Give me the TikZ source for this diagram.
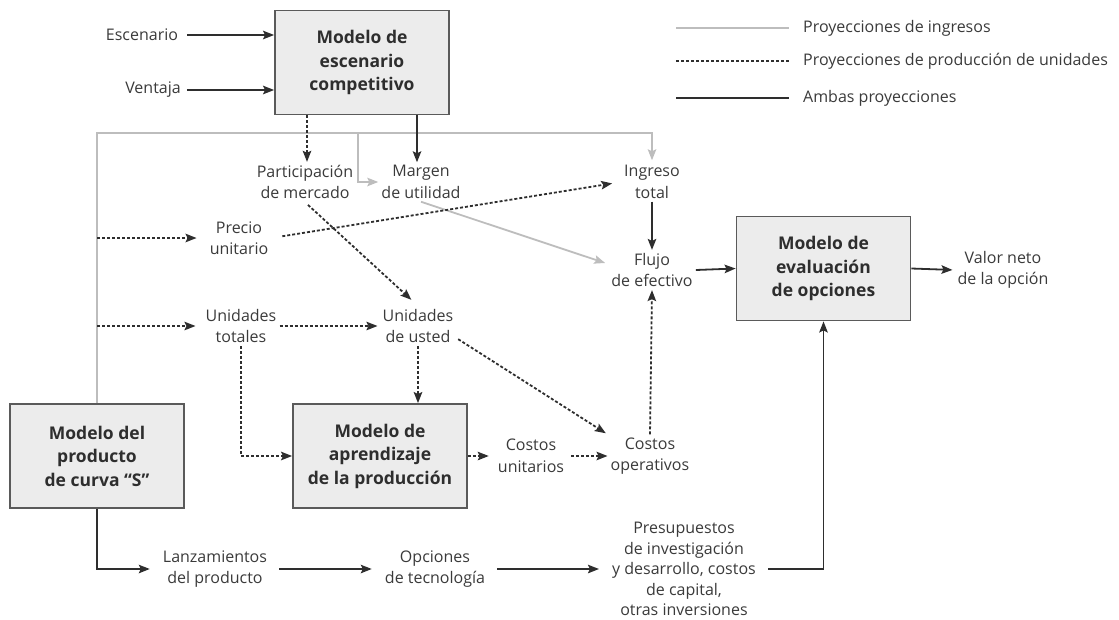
\documentclass[tikz,border=0pt]{standalone}
\usepackage{fontspec}
\setmainfont{Open Sans}
\usetikzlibrary{arrows.meta,calc}
\definecolor{ink}{HTML}{2E2E2E}
\definecolor{txt}{HTML}{3A3A3A}
\definecolor{lgray}{HTML}{BDBDBD}
\definecolor{boxfill}{HTML}{ECECEC}
\definecolor{boxline}{HTML}{5A5A5A}
\begin{document}
\begin{tikzpicture}[x=1pt,y=-1pt,
  >={Stealth[length=11pt,width=8.5pt,inset=2pt]},
  modelbox/.style={draw=boxline,line width=1.8pt,fill=boxfill,minimum width=174pt,minimum height=104pt,
     align=center,text=ink,font=\fontsize{17.5}{23.5}\selectfont\bfseries,inner sep=2pt},
  lab/.style={align=center,text=txt,font=\fontsize{16}{21.5}\selectfont,inner sep=3pt},
  leg/.style={anchor=west,text=txt,font=\fontsize{16}{21}\selectfont,inner sep=0pt},
  solidl/.style={draw=ink,line width=1.8pt},
  dotl/.style={draw=ink,line width=1.8pt,dash pattern=on 3pt off 2pt},
  grayl/.style={draw=lgray,line width=1.8pt},
]
\useasboundingbox (0,0) rectangle (1119,619);

% boxes
\node[modelbox] (comp) at (362,62.5) {Modelo de\\escenario\\competitivo};
\node[modelbox] (eval) at (823.5,268.5) {Modelo de\\evaluación\\de opciones};
\node[modelbox] (scurve) at (97,456) {Modelo del\\producto\\de curva “S”};
\node[modelbox] (aprend) at (380,456) {Modelo de\\aprendizaje\\de la producción};

% labels
\node[lab] (esc) at (142,35) {Escenario};
\node[lab] (ven) at (153,90) {Ventaja};
\node[lab] (part) at (305,182) {Participación\\de mercado};
\node[lab] (marg) at (421,182) {Margen\\de utilidad};
\node[lab] (ing) at (652,182) {Ingreso\\total};
\node[lab] (precio) at (239,238) {Precio\\unitario};
\node[lab] (flujo) at (652,270) {Flujo\\de efectivo};
\node[lab] (tot) at (241,326) {Unidades\\totales};
\node[lab] (usted) at (418,326) {Unidades\\de usted};
\node[lab] (cu) at (531,456) {Costos\\unitarios};
\node[lab] (co) at (650,456) {Costos\\operativos};
\node[lab] (valor) at (1003,270) {Valor neto\\de la opción};
\node[lab] (lanz) at (215,569) {Lanzamientos\\del producto};
\node[lab] (opc) at (435,569) {Opciones\\de tecnología};
\node[lab,font=\fontsize{16}{20.5}\selectfont] (pres) at (684,569) {Presupuestos\\de investigación\\y desarrollo, costos\\de capital,\\otras inversiones};

% legend
\coordinate (la1) at (676,28);
\coordinate (la2) at (676,61);
\coordinate (la3) at (676,98);
\node[leg] (l1) at (803,28) {Proyecciones de ingresos};
\node[leg] (l2) at (803,61) {Proyecciones de producción de unidades};
\node[leg] (l3) at (803,98) {Ambas proyecciones};
\draw[grayl,shorten >=14pt] (la1) -- (l1.west);
\draw[dotl,shorten >=14pt] (la2) -- (l2.west);
\draw[solidl,shorten >=14pt] (la3) -- (l3.west);

% gray network
\coordinate (gl) at (97,133);
\coordinate (gm) at (358,133);
\draw[grayl,->,shorten >=2pt] (scurve.north) -- (gl) -- (ing.north |- gl) -- (ing.north);
\draw[grayl,->] (gm) |- (marg.west);
\draw[grayl,->] (marg.south) -- ($(flujo.west)+(-3,-7)$);

% inputs to competitive model
\draw[solidl,->,shorten <=6pt] (esc.east) -- (comp.west |- esc);
\draw[solidl,->,shorten <=3pt] (ven.east) -- (comp.west |- ven);
\draw[dotl,->] (comp.south -| 307,0) -- (part.north -| 307,0);
\draw[solidl,->] (comp.south -| 417,0) -- (marg.north -| 417,0);

% dotted flows
\draw[dotl,->,shorten >=10pt] (scurve.north |- precio) -- (precio.west);
\draw[dotl,->,shorten >=7pt] (scurve.north |- tot) -- (tot.west);
\draw[dotl,->,shorten <=11pt,shorten >=9pt] (precio.east) -- (ing.west);
\draw[dotl,->,shorten <=4pt,shorten >=9pt] (part.south) -- (usted.north);
\draw[dotl,->,shorten >=2pt] (tot.east) -- (usted.west);
\draw[dotl,->] (tot.south) |- (aprend.west);
\draw[dotl,->] (usted.south) -- (usted.south |- aprend.north);
\draw[dotl,->,shorten <=2pt,shorten >=2pt] ($(usted.south east)+(0,-8)$) -- (co.north west);
\draw[dotl,->,shorten >=6pt] (aprend.east) -- (cu.west);
\draw[dotl,->,shorten <=4pt] (cu.east) -- (co.west);
\draw[dotl,->] (co.north) -- (flujo.south);

% solid flows
\draw[solidl,->] (ing.south) -- (flujo.north);
\draw[solidl,->] (flujo.east) -- (eval.west);
\draw[solidl,->,shorten >=2pt] (eval.east) -- (valor.west);
\draw[solidl,->,shorten >=10pt] (scurve.south) |- (lanz.west);
\draw[solidl,->,shorten <=9pt,shorten >=10pt] (lanz.east) -- (opc.west);
\draw[solidl,->,shorten <=9pt,shorten >=10pt] (opc.east) -- (pres.west);
\draw[solidl,->,shorten <=9pt] (pres.east) -| (eval.south);
\end{tikzpicture}
\end{document}
